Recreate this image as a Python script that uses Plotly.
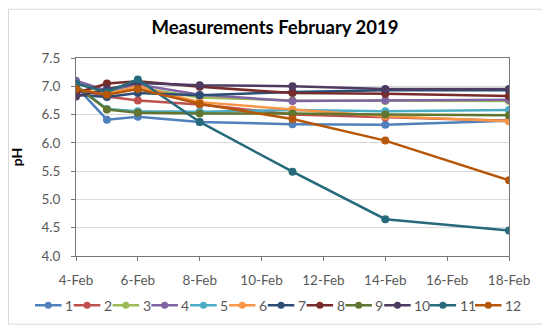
import plotly.graph_objects as go

dates = ["2019-02-04", "2019-02-05", "2019-02-06", "2019-02-08",
         "2019-02-11", "2019-02-14", "2019-02-18"]
series_names = ["1", "2", "3", "4", "5", "6", "7", "8", "9", "10", "11", "12"]
s1 = [7.00, 6.41, 6.46, 6.37, 6.33, 6.32, 6.39]
s2 = [6.95, 6.82, 6.75, 6.68, 6.50, 6.45, 6.39]
s3 = [7.05, 6.88, 6.98, 6.80, 6.75, 6.74, 6.74]
s4 = [7.10, 6.92, 7.03, 6.85, 6.74, 6.75, 6.76]
s5 = [7.02, 6.60, 6.56, 6.55, 6.58, 6.56, 6.58]
s6 = [6.95, 6.86, 7.00, 6.72, 6.59, 6.47, 6.38]
s7 = [6.85, 6.81, 6.88, 6.84, 6.90, 6.93, 6.93]
s8 = [6.88, 7.05, 7.09, 6.99, 6.88, 6.87, 6.83]
s9 = [7.00, 6.59, 6.53, 6.52, 6.52, 6.50, 6.49]
s10 = [6.82, 6.95, 7.06, 7.02, 7.00, 6.95, 6.95]
s11 = [7.05, 6.90, 7.12, 6.37, 5.49, 4.65, 4.45]
s12 = [6.95, 6.85, 6.95, 6.69, 6.42, 6.04, 5.34]
all_series = [s1, s2, s3, s4, s5, s6, s7, s8, s9, s10, s11, s12]

colors = ["#4F81BD", "#C0504D", "#9BBB59", "#8064A2", "#4BACC6", "#F79646",
          "#2C4D75", "#772C2A", "#5F7530", "#4D3B62", "#276A7C", "#B65708"]

FONT = "Lato"
AXIS_COLOR = "#767676"

fig = go.Figure()
for name, vals, c in zip(series_names, all_series, colors):
    fig.add_trace(go.Scatter(
        x=dates, y=vals, name=name, mode="lines+markers",
        line=dict(color=c, width=2.5),
        marker=dict(color=c, size=8),
        showlegend=False,
    ))

# page offset (body margin of the html page)
OFF = 8
W, H = 550 - OFF, 334 - OFF
# plot area in page pixels
PX0, PX1, PY0, PY1 = 76, 509, 57.5, 256.5
L, T = PX0 - OFF, PY0 - OFF
pw, ph = PX1 - PX0, PY1 - PY0
R, B = W - L - pw, H - T - ph


def px(xp):
    return (xp - OFF - L) / pw


def py(yp):
    return 1 - (yp - OFF - T) / ph


# manual one-row legend (line sample + marker + label)
shapes = [dict(type="rect", xref="paper", yref="paper",
               x0=px(OFF + 0.5), x1=px(544), y0=py(325), y1=py(OFF + 0.5),
               line=dict(color="#D9D9D9", width=1), layer="below")]
annotations = []
LEG_Y = 306
LINE_LEN, TEXT_GAP, CHAR_W, ITEM_GAP = 26.5, 2.5, 6.6, 3.2
xs = 35.0
for name, c in zip(series_names, colors):
    shapes.append(dict(type="line", xref="paper", yref="paper",
                       x0=px(xs), x1=px(xs + LINE_LEN), y0=py(LEG_Y), y1=py(LEG_Y),
                       line=dict(color=c, width=2.5)))
    shapes.append(dict(type="circle", xref="paper", yref="paper",
                       xsizemode="pixel", ysizemode="pixel",
                       xanchor=px(xs + LINE_LEN / 2), yanchor=py(LEG_Y),
                       x0=-3.5, x1=3.5, y0=-3.5, y1=3.5,
                       fillcolor=c, line=dict(width=0)))
    annotations.append(dict(text=name, xref="paper", yref="paper",
                            x=px(xs + LINE_LEN + TEXT_GAP - 1), y=py(LEG_Y),
                            xanchor="left", yanchor="middle", showarrow=False,
                            font=dict(family=FONT, size=14, color="#595959")))
    xs += LINE_LEN + TEXT_GAP + CHAR_W * len(name) + ITEM_GAP

fig.update_layout(
    width=W, height=H,
    margin=dict(l=L, r=R, t=T, b=B, autoexpand=False),
    paper_bgcolor="white", plot_bgcolor="white",
    font=dict(family=FONT, size=13, color="#595959"),
    title=dict(text="<b>Measurements February 2019</b>", x=(275 - OFF) / W, xanchor="center",
               y=1 - (28 - OFF) / H, yanchor="middle",
               font=dict(family=FONT, size=18.5, color="black")),
    showlegend=False,
    xaxis=dict(
        type="date", range=["2019-02-04", "2019-02-18"],
        tickformat="%-d-%b", dtick=2 * 86400000, tick0="2019-02-04",
        showgrid=False, showline=True, linecolor=AXIS_COLOR, linewidth=1, mirror=True,
        ticks="outside", ticklen=4, tickcolor=AXIS_COLOR, ticklabelstandoff=8,
        tickfont=dict(family=FONT, size=13.5, color="#595959"),
    ),
    yaxis=dict(
        range=[4.0, 7.5], dtick=0.5, tickformat=".1f",
        showgrid=True, gridcolor="#D9D9D9", gridwidth=1,
        showline=True, linecolor=AXIS_COLOR, linewidth=1, mirror=True,
        ticks="outside", ticklen=4, tickcolor=AXIS_COLOR, ticklabelstandoff=8,
        tickfont=dict(family=FONT, size=13.5, color="#595959"),
        title=dict(text="<b>pH</b>", font=dict(family=FONT, size=14, color="black"), standoff=24),
        zeroline=False,
    ),
    shapes=shapes,
    annotations=annotations,
)

fig.write_html("out.html")
